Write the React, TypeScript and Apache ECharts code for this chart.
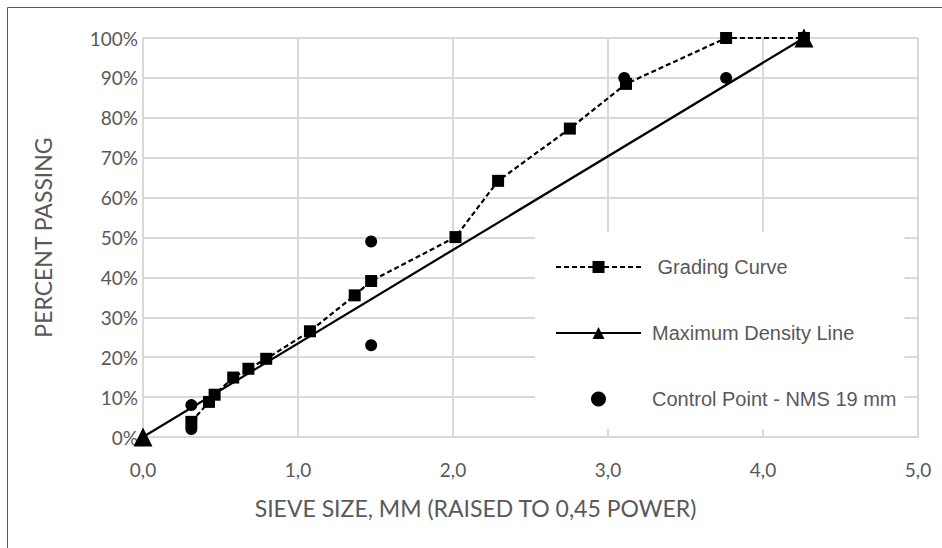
import React, { useEffect, useRef } from "react";
import * as echarts from "echarts";

// Grading curve (sieve size ^0.45, percent passing)
const gradingX = [0.312, 0.426, 0.462, 0.582, 0.68, 0.795, 1.077, 1.366, 1.472, 2.016, 2.291, 2.754, 3.116, 3.762, 4.264];
const gradingY = [3.8, 8.8, 10.6, 14.9, 17.1, 19.6, 26.5, 35.5, 39.1, 50.1, 64.2, 77.3, 88.5, 100, 100];

// Maximum density line
const mdlX = [0, 4.264];
const mdlY = [0, 100];

// Control points (NMS 19 mm)
const ctrlX = [0.312, 0.312, 1.472, 1.472, 3.105, 3.762];
const ctrlY = [2, 8, 23, 49, 90, 90];

const seriesNames = [" Grading Curve", "Maximum Density Line", "Control Point - NMS 19 mm"];

const xTicks = { min: 0, max: 5, interval: 1 };
const yTicks = { min: 0, max: 100, interval: 10 };

const zip = (xs: number[], ys: number[]) => xs.map((x, i) => [x, ys[i]]);

export default function App() {
  const ref = useRef<HTMLDivElement>(null);
  useEffect(() => {
    document.body.style.margin = "0";
    const chart = echarts.init(ref.current!, null, { renderer: "svg" });
    const axisFont = "Lato, 'Open Sans', sans-serif";
    chart.setOption({
      animation: false,
      backgroundColor: "#ffffff",
      grid: { left: 143, right: 24, top: 38, bottom: 111, containLabel: false },
      xAxis: {
        type: "value",
        min: xTicks.min,
        max: xTicks.max,
        interval: xTicks.interval,
        name: "SIEVE SIZE, MM (RAISED TO 0,45 POWER)",
        nameLocation: "middle",
        nameGap: 59,
        nameTextStyle: { color: "#595959", fontSize: 23, fontFamily: axisFont, padding: [0, 110, 0, 0] },
        axisLine: { show: true, lineStyle: { color: "#d9d9d9", width: 2 } },
        axisTick: { show: false },
        axisLabel: {
          color: "#595959",
          fontSize: 19,
          fontFamily: axisFont,
          margin: 23,
          formatter: (v: number) => v.toFixed(1).replace(".", ","),
        },
        splitLine: { show: true, lineStyle: { color: "#d9d9d9", width: 2 } },
      },
      yAxis: {
        type: "value",
        min: yTicks.min,
        max: yTicks.max,
        interval: yTicks.interval,
        name: "PERCENT PASSING",
        nameLocation: "middle",
        nameGap: 89,
        nameTextStyle: { color: "#595959", fontSize: 23, fontFamily: axisFont },
        axisLine: { show: true, lineStyle: { color: "#d9d9d9", width: 2 } },
        axisTick: { show: false },
        axisLabel: {
          color: "#595959",
          fontSize: 19,
          fontFamily: axisFont,
          margin: 5,
          formatter: "{value}%",
        },
        splitLine: { show: true, lineStyle: { color: "#d9d9d9", width: 2 } },
      },
      legend: {
        orient: "vertical",
        left: 535,
        top: 232,
        backgroundColor: "#ffffff",
        padding: [25, 8, 20, 20],
        itemWidth: 85,
        itemHeight: 15,
        itemGap: 46,
        textStyle: {
          color: "#595959",
          fontSize: 20,
          fontFamily: "'Liberation Sans', Arial, sans-serif",
          padding: [0, 0, 0, 6],
        },
        data: seriesNames,
      },
      series: [
        {
          name: seriesNames[1],
          type: "line",
          data: zip(mdlX, mdlY),
          symbol: "triangle",
          symbolSize: 19,
          lineStyle: { color: "#000000", width: 2.2 },
          itemStyle: { color: "#000000" },
          z: 3,
        },
        {
          name: seriesNames[0],
          type: "line",
          data: zip(gradingX, gradingY),
          symbol: "rect",
          symbolSize: 12,
          lineStyle: { color: "#000000", width: 2.2, type: [5, 3] },
          itemStyle: { color: "#000000" },
          z: 2,
        },
        {
          name: seriesNames[2],
          type: "scatter",
          data: zip(ctrlX, ctrlY),
          symbol: "circle",
          symbolSize: 12,
          itemStyle: { color: "#000000", opacity: 1 },
          z: 4,
        },
      ],
      graphic: [
        { type: "line", shape: { x1: 7.5, y1: 7.5, x2: 942, y2: 7.5 }, style: { stroke: "#595959", lineWidth: 1 }, silent: true },
        { type: "line", shape: { x1: 7.5, y1: 7.5, x2: 7.5, y2: 548 }, style: { stroke: "#595959", lineWidth: 1 }, silent: true },
      ],
    });
    return () => chart.dispose();
  }, []);
  return <div ref={ref} style={{ position: "fixed", left: 0, top: 0, width: 942, height: 548 }} />;
}
